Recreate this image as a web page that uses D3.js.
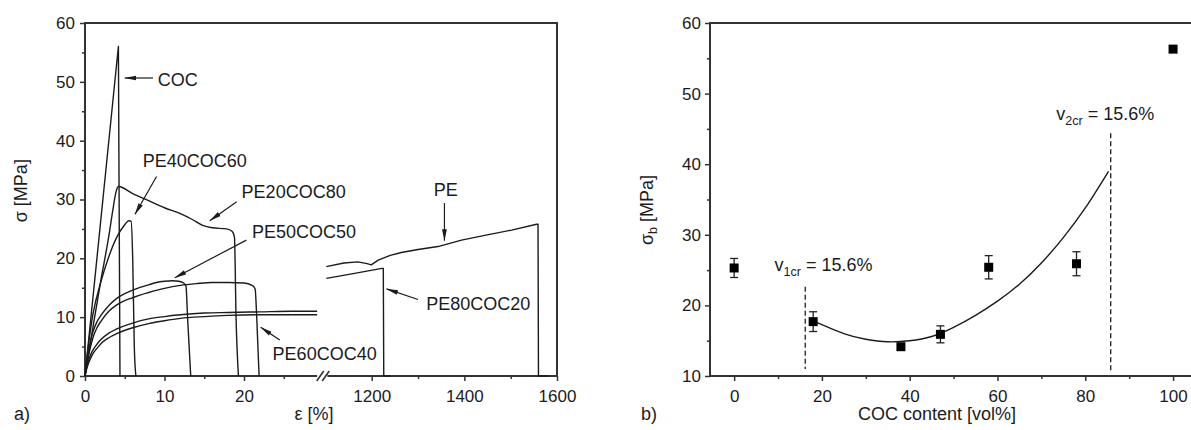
<!DOCTYPE html>
<html>
<head>
<meta charset="utf-8">
<script src="https://cdn.jsdelivr.net/npm/d3@7"></script>
<style>
  body { margin: 0; background: #fff; }
  svg { display: block; }
</style>
</head>
<body>
<svg id="chart" width="1191" height="430"></svg>
<script>
// ---------- panel a) stress–strain curves, [strain %, stress MPa] ----------
const curveCOC = [[0, 0], [4.2, 56], [4.4, 0]];
const curvePE20COC80 = [[0, 0], [1, 8.3], [2, 16.3], [3, 23.8], [3.5, 28.2], [3.9, 31.3], [4.2, 32.2],
  [6, 31.0], [8, 29.8], [10, 28.6], [12, 27.6], [13.5, 26.6], [14.8, 25.6], [16, 25.2], [17.8, 25.0],
  [18.5, 24.6], [18.8, 23.6], [19.0, 10], [19.3, 0]];
const curvePE40COC60 = [[0, 0], [0.5, 6], [1, 10.5], [2, 16], [3, 20.3], [4, 23.6], [5, 25.7],
  [5.5, 26.4], [5.8, 26.3], [6.0, 20], [6.2, 5], [6.4, 0]];
const curvePE50COC50 = [[0, 0], [0.3, 3], [0.7, 6], [1, 7.5], [1.5, 9.2], [2, 10.3], [3, 12], [4, 13.2],
  [5, 14], [6, 14.6], [7, 15.1], [8, 15.5], [9, 15.9], [10, 16.1], [11, 16.2], [11.8, 16.1],
  [12.4, 15.8], [12.7, 15.3], [12.9, 10], [13.3, 0]];
const curveBlendB = [[0, 0], [0.3, 2.5], [0.7, 5], [1, 6.5], [1.5, 8.2], [2, 9.3], [3, 11], [4, 12.1],
  [5, 12.8], [6, 13.3], [7, 13.8], [8, 14.2], [10, 14.9], [12, 15.4], [14, 15.7], [16, 15.9],
  [18, 15.9], [20, 15.8], [21, 15.4], [21.4, 14.8], [21.6, 10], [21.9, 0]];
const curveBlendC = [[0, 0], [0.3, 2], [0.7, 3.6], [1, 4.4], [1.5, 5.4], [2, 6.2], [3, 7.3], [4, 8],
  [6, 9], [8, 9.7], [10, 10.1], [12, 10.4], [15, 10.7], [18, 10.8], [22, 10.9], [26, 11], [29.2, 11]];
const curvePE60COC40 = [[0, 0], [0.3, 1.6], [0.7, 3], [1, 3.8], [1.5, 4.7], [2, 5.5], [3, 6.5], [4, 7.2],
  [6, 8.2], [8, 8.9], [10, 9.4], [12, 9.8], [15, 10.1], [18, 10.3], [22, 10.4], [26, 10.4], [29.2, 10.4]];
// long-elongation part (after the axis break)
const curvePE = [[1102, 18.6], [1140, 19.2], [1170, 19.4], [1190, 19.1], [1199, 18.9], [1214, 19.7],
  [1240, 20.5], [1264, 21.0], [1300, 21.5], [1343, 22.0], [1394, 23.1], [1444, 23.9], [1502, 24.8],
  [1556, 25.8], [1559, 25.8], [1560, 0], [1582, 0]];
const curvePE80COC20 = [[1102, 16.6], [1160, 17.4], [1222, 18.3], [1225, 18.3], [1226, 0], [1240, 0]];

const strainTicksLow = [0, 10, 20];
const strainTicksHigh = [1200, 1400, 1600];
const stressTicks = [0, 10, 20, 30, 40, 50, 60];

// ---------- panel b) stress at break vs COC content ----------
const cocContent = [0, 18, 38, 47, 58, 78, 100];
const breakStress = [25.3, 17.7, 14.15, 15.9, 25.4, 25.9, 56.3];
const breakError = [1.35, 1.4, 0.3, 1.2, 1.65, 1.7, 0.3];
const fitContent = [18, 25, 30, 35, 40, 45, 50, 55, 60, 65, 70, 75, 80, 85.3];
const fitStress = [17.8, 16.0, 15.2, 14.85, 15.0, 15.6, 16.9, 18.6, 20.6, 23.0, 26.0, 29.6, 33.8, 39.0];
const contentTicks = [0, 20, 40, 60, 80, 100];
const breakTicks = [10, 20, 30, 40, 50, 60];
const v1cr = 16.2, v2cr = 85.8;

const FONT = '"Liberation Sans", Arial, Helvetica, sans-serif';
const INK = "#1b1b1b";
const FRAME = "#333";
const svg = d3.select("#chart");
const plain = d3.format("d");

function styleAxis(g, fs) {
  g.select(".domain").remove();
  g.selectAll(".tick line").attr("stroke", FRAME).attr("stroke-width", 1.5);
  g.selectAll(".tick text").attr("font-family", FONT).attr("font-size", fs).attr("fill", INK);
}

// ================= panel a =================
const xLow = d3.scaleLinear().domain([0, 30]).range([85, 323.5]);
const xHigh = d3.scaleLinear().domain([1100, 1600]).range([325.4, 557]);
const yA = d3.scaleLinear().domain([0, 60]).range([376, 23]);

const a = svg.append("g");

// axes
a.append("g").attr("transform", "translate(85,0)")
  .call(d3.axisLeft(yA).tickValues(stressTicks).tickFormat(plain).tickSize(5).tickPadding(5))
  .call(g => styleAxis(g, 17));
a.append("g").attr("transform", "translate(85,0)")
  .call(d3.axisLeft(yA).tickValues([5, 15, 25, 35, 45, 55]).tickSize(3).tickFormat(""))
  .call(g => styleAxis(g, 17));
a.append("g").attr("transform", "translate(0,376)")
  .call(d3.axisBottom(xLow).tickValues(strainTicksLow).tickFormat(plain).tickSize(5).tickPadding(9))
  .call(g => styleAxis(g, 17));
a.append("g").attr("transform", "translate(0,376)")
  .call(d3.axisBottom(xLow).tickValues([5, 15, 25]).tickSize(3).tickFormat(""))
  .call(g => styleAxis(g, 17));
a.append("g").attr("transform", "translate(0,376)")
  .call(d3.axisBottom(xHigh).tickValues(strainTicksHigh).tickFormat(plain).tickSize(5).tickPadding(9))
  .call(g => styleAxis(g, 17));
a.append("g").attr("transform", "translate(0,376)")
  .call(d3.axisBottom(xHigh).tickValues([1300, 1500]).tickSize(3).tickFormat(""))
  .call(g => styleAxis(g, 17));

// frame with the axis break
a.append("path")
  .attr("d", `M${xLow(0)},${yA(0)}V${yA(60)}H${xHigh(1600)}V${yA(0)}H${xHigh(1100) + 2}`)
  .attr("fill", "none").attr("stroke", FRAME).attr("stroke-width", 2);
a.append("path")
  .attr("d", `M${xLow(0)},${yA(0)}H${xLow(29.2)}`)
  .attr("fill", "none").attr("stroke", FRAME).attr("stroke-width", 2);
[xLow(29.9) - 2.5, xLow(29.9) + 3].forEach(bx => {
  a.append("line").attr("x1", bx - 3.5).attr("y1", yA(0) + 5).attr("x2", bx + 3.5).attr("y2", yA(0) - 5)
    .attr("stroke", FRAME).attr("stroke-width", 1.6);
});

// curves
const curveStyle = p => p.attr("fill", "none").attr("stroke", INK).attr("stroke-width", 1.4)
  .attr("stroke-linejoin", "round");

a.append("path").datum(curveCOC)
  .attr("d", d3.line().x(d => xLow(d[0])).y(d => yA(d[1]))).call(curveStyle);
[curvePE20COC80, curvePE40COC60, curvePE50COC50, curveBlendB, curveBlendC, curvePE60COC40].forEach(c => {
  a.append("path").datum(c)
    .attr("d", d3.line().x(d => xLow(d[0])).y(d => yA(d[1])).curve(d3.curveMonotoneX)).call(curveStyle);
});
[curvePE, curvePE80COC20].forEach(c => {
  a.append("path").datum(c)
    .attr("d", d3.line().x(d => xHigh(d[0])).y(d => yA(d[1]))).call(curveStyle);
});

// arrowhead
const defs = svg.append("defs");
defs.append("marker").attr("id", "head").attr("viewBox", "0 0 12 6")
  .attr("refX", 11.5).attr("refY", 3).attr("markerWidth", 12).attr("markerHeight", 6)
  .attr("markerUnits", "userSpaceOnUse").attr("orient", "auto")
  .append("path").attr("d", "M0,0.6L12,3L0,5.4Z").attr("fill", INK);

function label(sx, x, y, text, anchor) {
  a.append("text").attr("x", sx(x)).attr("y", yA(y)).attr("text-anchor", anchor || "start")
    .attr("font-family", FONT).attr("font-size", 18).attr("fill", INK).text(text);
}
function arrow(sx, x1, y1, x2, y2) {
  a.append("line").attr("x1", sx(x1)).attr("y1", yA(y1)).attr("x2", sx(x2)).attr("y2", yA(y2))
    .attr("stroke", INK).attr("stroke-width", 1.2).attr("marker-end", "url(#head)");
}

label(xLow, 9.15, 49.3, "COC");
arrow(xLow, 8.55, 50.65, 5.0, 50.65);
label(xLow, 7.26, 35.6, "PE40COC60");
arrow(xLow, 9.0, 33.9, 6.29, 27.5);
label(xLow, 19.7, 30.3, "PE20COC80");
arrow(xLow, 19.08, 29.6, 15.7, 26.4);
label(xLow, 21.0, 23.4, "PE50COC50");
arrow(xLow, 20.3, 23.1, 11.3, 16.7);
label(xLow, 23.6, 2.7, "PE60COC40");
arrow(xLow, 24.5, 6.1, 22.1, 8.3);
label(xHigh, 1359.8, 30.6, "PE", "middle");
arrow(xHigh, 1357, 29.4, 1357, 23.0);
label(xHigh, 1317.9, 11.2, "PE80COC20");
arrow(xHigh, 1300, 13.0, 1232, 14.8);

// axis titles
a.append("text").attr("transform", `translate(27,${yA(31.5)}) rotate(-90)`).attr("text-anchor", "middle")
  .attr("font-family", FONT).attr("font-size", 18).attr("fill", INK).text("σ [MPa]");
a.append("text").attr("x", 314).attr("y", 420).attr("text-anchor", "middle")
  .attr("font-family", FONT).attr("font-size", 18).attr("fill", INK).text("ε [%]");
a.append("text").attr("x", 14).attr("y", 420)
  .attr("font-family", FONT).attr("font-size", 18).attr("fill", INK).text("a)");

// ================= panel b =================
const xB = d3.scaleLinear().domain([-5.5, 105]).range([710, 1195]);
const yB = d3.scaleLinear().domain([10, 60]).range([376, 23]);
const b = svg.append("g");

b.append("g").attr("transform", "translate(710,0)")
  .call(d3.axisLeft(yB).tickValues(breakTicks).tickFormat(plain).tickSize(5).tickPadding(4))
  .call(g => styleAxis(g, 17));
b.append("g").attr("transform", "translate(710,0)")
  .call(d3.axisLeft(yB).tickValues([15, 25, 35, 45, 55]).tickSize(3).tickFormat(""))
  .call(g => styleAxis(g, 17));
b.append("g").attr("transform", "translate(0,376)")
  .call(d3.axisBottom(xB).tickValues(contentTicks).tickFormat(plain).tickSize(5).tickPadding(9))
  .call(g => styleAxis(g, 17));
b.append("g").attr("transform", "translate(0,376)")
  .call(d3.axisBottom(xB).tickValues([10, 30, 50, 70, 90]).tickSize(3).tickFormat(""))
  .call(g => styleAxis(g, 17));

b.append("path")
  .attr("d", `M${xB(105)},${yB(10)}H${xB(-5.5)}V${yB(60)}H${xB(105)}`)
  .attr("fill", "none").attr("stroke", FRAME).attr("stroke-width", 2);

// critical volume fractions
[[v1cr, 22.65, 11.0], [v2cr, 44.4, 10.4]].forEach(([v, top, bot]) => {
  b.append("line").attr("x1", xB(v)).attr("x2", xB(v)).attr("y1", yB(top)).attr("y2", yB(bot))
    .attr("stroke", INK).attr("stroke-width", 1.3).attr("stroke-dasharray", "5,3");
});

// fitted curve
b.append("path")
  .datum(fitContent.map((c, i) => [c, fitStress[i]]))
  .attr("d", d3.line().x(d => xB(d[0])).y(d => yB(d[1])).curve(d3.curveNatural))
  .attr("fill", "none").attr("stroke", INK).attr("stroke-width", 1.4);

// error bars and markers
cocContent.forEach((c, i) => {
  const x = xB(c), lo = yB(breakStress[i] - breakError[i]), hi = yB(breakStress[i] + breakError[i]);
  const eb = b.append("g").attr("stroke", "#222").attr("stroke-width", 1.3);
  eb.append("line").attr("x1", x).attr("x2", x).attr("y1", lo).attr("y2", hi);
  eb.append("line").attr("x1", x - 4).attr("x2", x + 4).attr("y1", lo).attr("y2", lo);
  eb.append("line").attr("x1", x - 4).attr("x2", x + 4).attr("y1", hi).attr("y2", hi);
  b.append("rect").attr("x", x - 4.5).attr("y", yB(breakStress[i]) - 4.5)
    .attr("width", 9).attr("height", 9).attr("fill", "#000");
});

function critLabel(x, y, sub) {
  const t = b.append("text").attr("x", xB(x)).attr("y", yB(y))
    .attr("font-family", FONT).attr("font-size", 18).attr("fill", INK);
  t.append("tspan").text("v");
  t.append("tspan").attr("font-size", 12.5).attr("dy", 5).text(sub);
  t.append("tspan").attr("dy", -5).text(" = 15.6%");
}
critLabel(9.2, 24.9, "1cr");
critLabel(73.4, 46.2, "2cr");

// axis titles
const yt = b.append("text").attr("transform", `translate(653,${yB(33.5)}) rotate(-90)`).attr("text-anchor", "middle")
  .attr("font-family", FONT).attr("font-size", 18).attr("fill", INK);
yt.append("tspan").text("σ");
yt.append("tspan").attr("font-size", 12.5).attr("dy", 4).text("b");
yt.append("tspan").attr("dy", -4).text(" [MPa]");
b.append("text").attr("x", 937).attr("y", 420).attr("text-anchor", "middle")
  .attr("font-family", FONT).attr("font-size", 18).attr("fill", INK).text("COC content [vol%]");
b.append("text").attr("x", 641).attr("y", 420)
  .attr("font-family", FONT).attr("font-size", 18).attr("fill", INK).text("b)");
</script>
</body>
</html>
